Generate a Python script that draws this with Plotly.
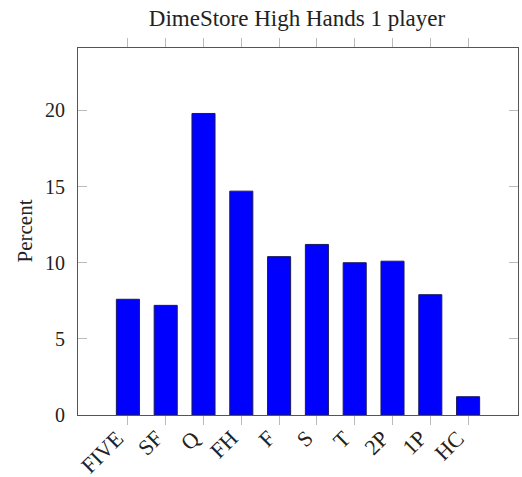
import plotly.graph_objects as go

categories = ["FIVE", "SF", "Q", "FH", "F", "S", "T", "2P", "1P", "HC"]
percent = [7.6, 7.2, 19.8, 14.7, 10.4, 11.2, 10.0, 10.1, 7.9, 1.2]
y_ticks = [0, 5, 10, 15, 20]

FONT = "Liberation Serif"
TXT = "#222222"

W, H = 522, 477
L, T = 78, 48
R = W - 518
B = H - 415
pw = W - L - R
ph = H - T - B

fig = go.Figure(go.Bar(
    x=categories, y=percent,
    marker=dict(color="#0000FF", line=dict(color="#1a1a5a", width=1)),
))

annotations = [dict(text="Percent", xref="paper", yref="paper",
                    x=(24 - L) / pw, y=0.5, xanchor="center", yanchor="middle",
                    textangle=-90, showarrow=False,
                    font=dict(family=FONT, size=21, color=TXT))]
# rotated category labels under the ticks
for c in categories:
    annotations.append(dict(text=c, xref="x", yref="paper", x=c, y=-15 / ph,
                            xanchor="right", yanchor="top", xshift=4, yshift=7,
                            textangle=-45, showarrow=False,
                            font=dict(family=FONT, size=22, color=TXT)))

fig.update_layout(
    width=W, height=H,
    margin=dict(l=L, r=R, t=T, b=B),
    paper_bgcolor="white", plot_bgcolor="white",
    bargap=0.39,
    showlegend=False,
    font=dict(family=FONT, color=TXT),
    title=dict(text="DimeStore High Hands 1 player", x=297 / W, xanchor="center",
               y=1 - 18 / H, yanchor="middle", font=dict(family=FONT, size=23, color=TXT)),
    annotations=annotations,
)
fig.update_xaxes(
    range=[-1.32, 10.32], showline=True, linecolor="#555555", linewidth=1.2,
    mirror="ticks", ticks="outside", ticklen=9, tickcolor="#bbbbbb", tickwidth=1,
    showticklabels=False,
    showgrid=False, zeroline=False, automargin=False,
)
fig.update_yaxes(
    range=[0, 24.1], tickvals=y_ticks, showline=True, linecolor="#555555", linewidth=1.2,
    mirror="ticks", ticks="inside", ticklen=9, tickcolor="#bbbbbb", tickwidth=1,
    tickfont=dict(family=FONT, size=20, color=TXT), ticklabelstandoff=8,
    showgrid=False, zeroline=False, automargin=False,
)

fig.write_html("out.html", config={"displayModeBar": False},
               post_script="document.body.style.margin='0';")
